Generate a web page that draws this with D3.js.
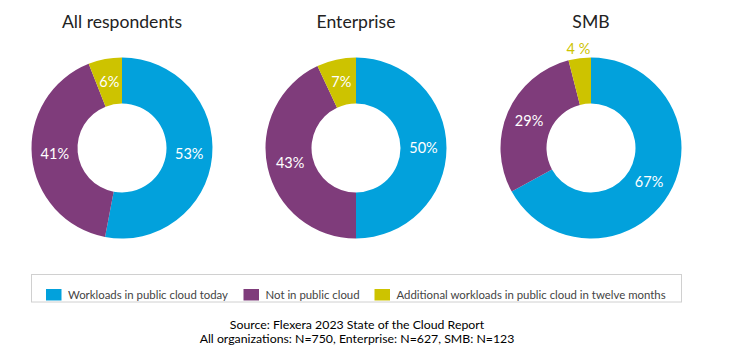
<!DOCTYPE html>
<html><head><meta charset="utf-8">
<script src="https://cdn.jsdelivr.net/npm/d3@7"></script>
<style>
body{margin:0;background:#fff;}
text{font-family:Lato, "Open Sans", sans-serif;}
</style></head>
<body><svg id="c" width="741" height="360"></svg>
<script>
const groups = ["All respondents", "Enterprise", "SMB"];
const categories = ["Workloads in public cloud today", "Not in public cloud", "Additional workloads in public cloud in twelve months"];
const workloadsToday = [53, 50, 67];
const notInCloud = [41, 43, 29];
const additional = [6, 7, 4];
const colors = ["#02a1dc", "#7f3c7b", "#cdc300"];
const sourceLines = ["Source: Flexera 2023 State of the Cloud Report", "All organizations: N=750, Enterprise: N=627, SMB: N=123"];

const svg = d3.select("#c");
const centers = [122, 356, 591];
const cy = 148, rOut = 90.5, rIn = 44.5;

const pie = d3.pie().sort(null).value(d => d.v);
const arc = d3.arc().innerRadius(rIn).outerRadius(rOut);
const labelArc = d3.arc().innerRadius(rIn).outerRadius(rOut);
const outArc = d3.arc().innerRadius(100).outerRadius(100);

groups.forEach((g, i) => {
  const data = [workloadsToday[i], notInCloud[i], additional[i]].map((v, k) => ({v, k}));
  const gg = svg.append("g").attr("transform", `translate(${centers[i]},${cy})`);
  const arcs = pie(data);
  gg.selectAll("path").data(arcs).join("path")
    .attr("d", arc).attr("fill", d => colors[d.data.k]);
  gg.selectAll("text.lab").data(arcs).join("text").attr("class", "lab")
    .each(function(d) {
      const small = d.data.v < 5;
      const p = small ? outArc.centroid(d) : labelArc.centroid(d);
      d3.select(this).attr("x", p[0]).attr("y", p[1] + 5)
        .attr("fill", small ? colors[2] : "#fff")
        .text(small ? d.data.v + " %" : d.data.v + "%");
    })
    .attr("text-anchor", "middle").attr("font-size", 14.5);
  svg.append("text").attr("x", centers[i]).attr("y", 28)
    .attr("text-anchor", "middle").attr("font-size", 17.6).attr("fill", "#222").text(g);
});

// legend
svg.append("rect").attr("x", 31.5).attr("y", 274.5).attr("width", 650).attr("height", 27.5)
  .attr("fill", "#fff").attr("stroke", "#d0d0d0");
const legX = [46, 243.5, 374.5];
const lg = svg.selectAll("g.leg").data(categories).join("g").attr("class", "leg")
  .attr("transform", (d, i) => `translate(${legX[i]},289)`);
lg.append("rect").attr("width", 15.5).attr("height", 11.5).attr("fill", (d, i) => colors[i]);
lg.append("text").attr("x", 22).attr("y", 10).attr("font-size", 11.4).attr("fill", "#444").text(d => d);

svg.selectAll("text.src").data(sourceLines).join("text").attr("class", "src")
  .attr("x", 357).attr("y", (d, i) => 329 + i * 14).attr("text-anchor", "middle")
  .attr("font-size", 12.3).attr("fill", "#000").text(d => d);
</script></body></html>
